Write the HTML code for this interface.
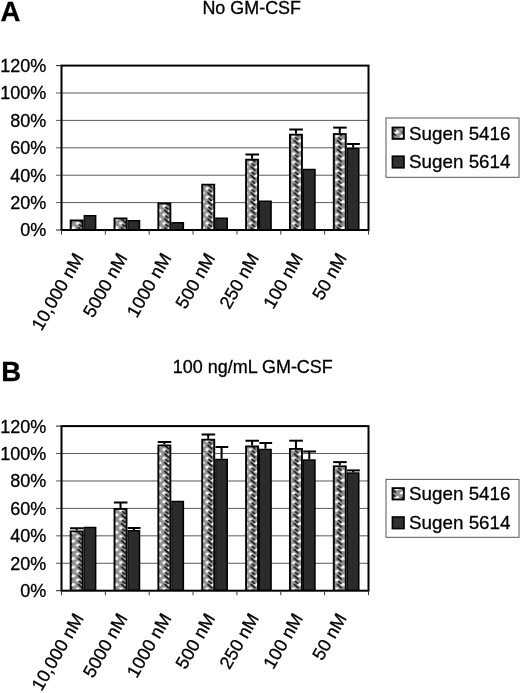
<!DOCTYPE html>
<html><head><meta charset="utf-8"><title>Chart</title>
<style>
html,body{margin:0;padding:0;background:#fff;}
body{width:520px;height:693px;overflow:hidden;}
svg{display:block;position:absolute;left:0;top:0;will-change:transform;opacity:0.999;}
text{font-family:"Liberation Sans",sans-serif;fill:#000;stroke:#000;stroke-width:0.3px;}
</style></head><body>
<svg width="520" height="693" viewBox="0 0 520 693">
<defs>
<pattern id="pata" x="0" y="0" width="10.8" height="8.7" patternUnits="userSpaceOnUse">
<rect width="10.8" height="8.7" fill="#929292"/>
<ellipse cx="8.0" cy="1.6" rx="2.5" ry="1.5" fill="#fff"/>
<ellipse cx="2.3" cy="5.9" rx="2.1" ry="1.6" fill="#fff"/>
<path d="M2.8 1.6 L6.6 4.9 M3.6 7.0 L6.4 9.2 M3.6 -1.7 L6.4 0.5" stroke="#0a0a0a" stroke-width="1.5" stroke-linecap="round" fill="none"/>
</pattern>
<pattern id="patb" x="0" y="0" width="10.8" height="8.7" patternUnits="userSpaceOnUse">
<rect width="10.8" height="8.7" fill="#929292"/>
<ellipse cx="8.0" cy="1.6" rx="2.5" ry="1.5" fill="#fff"/>
<ellipse cx="2.3" cy="5.9" rx="2.1" ry="1.6" fill="#fff"/>
<path d="M2.8 1.6 L6.6 4.9 M3.6 7.0 L6.4 9.2 M3.6 -1.7 L6.4 0.5" stroke="#0a0a0a" stroke-width="1.5" stroke-linecap="round" fill="none"/>
</pattern>
</defs>
<rect width="520" height="693" fill="#fff"/>
<line x1="56.0" y1="93.00" x2="368.5" y2="93.00" stroke="#5a5a5a" stroke-width="1"/>
<line x1="56.0" y1="120.40" x2="368.5" y2="120.40" stroke="#5a5a5a" stroke-width="1"/>
<line x1="56.0" y1="147.80" x2="368.5" y2="147.80" stroke="#5a5a5a" stroke-width="1"/>
<line x1="56.0" y1="175.20" x2="368.5" y2="175.20" stroke="#5a5a5a" stroke-width="1"/>
<line x1="56.0" y1="202.60" x2="368.5" y2="202.60" stroke="#5a5a5a" stroke-width="1"/>
<rect x="69.70" y="219.50" width="13.90" height="10.50" fill="#000"/>
<rect x="71.60" y="221.30" width="10.10" height="7.90" fill="url(#pata)"/>
<rect x="83.60" y="215.00" width="12.80" height="15.00" fill="#000"/>
<rect x="84.60" y="216.40" width="10.20" height="12.60" fill="#2b2b2b"/>
<rect x="113.56" y="217.50" width="13.90" height="12.50" fill="#000"/>
<rect x="115.46" y="219.30" width="10.10" height="9.90" fill="url(#pata)"/>
<rect x="127.46" y="220.00" width="12.80" height="10.00" fill="#000"/>
<rect x="128.46" y="221.40" width="10.20" height="7.60" fill="#2b2b2b"/>
<rect x="157.41" y="202.50" width="13.90" height="27.50" fill="#000"/>
<rect x="159.31" y="204.30" width="10.10" height="24.90" fill="url(#pata)"/>
<rect x="171.31" y="222.00" width="12.80" height="8.00" fill="#000"/>
<rect x="172.31" y="223.40" width="10.20" height="5.60" fill="#2b2b2b"/>
<rect x="201.27" y="183.75" width="13.90" height="46.25" fill="#000"/>
<rect x="203.17" y="185.55" width="10.10" height="43.65" fill="url(#pata)"/>
<rect x="215.17" y="217.50" width="12.80" height="12.50" fill="#000"/>
<rect x="216.17" y="218.90" width="10.20" height="10.10" fill="#2b2b2b"/>
<rect x="245.13" y="158.75" width="13.90" height="71.25" fill="#000"/>
<rect x="247.03" y="160.55" width="10.10" height="68.65" fill="url(#pata)"/>
<rect x="259.03" y="200.50" width="12.80" height="29.50" fill="#000"/>
<rect x="260.03" y="201.90" width="10.20" height="27.10" fill="#2b2b2b"/>
<rect x="251.08" y="154.50" width="2" height="4.25" fill="#000"/>
<rect x="245.43" y="153.50" width="13.60" height="2" fill="#000"/>
<rect x="288.99" y="133.75" width="13.90" height="96.25" fill="#000"/>
<rect x="290.89" y="135.55" width="10.10" height="93.65" fill="url(#pata)"/>
<rect x="302.89" y="168.75" width="12.80" height="61.25" fill="#000"/>
<rect x="303.89" y="170.15" width="10.20" height="58.85" fill="#2b2b2b"/>
<rect x="294.94" y="129.50" width="2" height="4.25" fill="#000"/>
<rect x="289.29" y="128.50" width="13.60" height="2" fill="#000"/>
<rect x="332.84" y="133.10" width="13.90" height="96.90" fill="#000"/>
<rect x="334.74" y="134.90" width="10.10" height="94.30" fill="url(#pata)"/>
<rect x="346.74" y="147.80" width="12.80" height="82.20" fill="#000"/>
<rect x="347.74" y="149.20" width="10.20" height="79.80" fill="#2b2b2b"/>
<rect x="338.79" y="127.60" width="2" height="5.50" fill="#000"/>
<rect x="333.14" y="126.60" width="13.60" height="2" fill="#000"/>
<rect x="352.14" y="144.00" width="2" height="3.80" fill="#000"/>
<rect x="347.04" y="143.00" width="12.80" height="2" fill="#000"/>
<rect x="61.5" y="65.6" width="307.0" height="164.4" fill="none" stroke="#000" stroke-width="2"/>
<line x1="56.0" y1="65.6" x2="61.5" y2="65.6" stroke="#222" stroke-width="1"/>
<line x1="56.0" y1="230.0" x2="61.5" y2="230.0" stroke="#222" stroke-width="1"/>
<line x1="61.50" y1="230.0" x2="61.50" y2="234.5" stroke="#333" stroke-width="1"/>
<line x1="105.36" y1="230.0" x2="105.36" y2="234.5" stroke="#333" stroke-width="1"/>
<line x1="149.21" y1="230.0" x2="149.21" y2="234.5" stroke="#333" stroke-width="1"/>
<line x1="193.07" y1="230.0" x2="193.07" y2="234.5" stroke="#333" stroke-width="1"/>
<line x1="236.93" y1="230.0" x2="236.93" y2="234.5" stroke="#333" stroke-width="1"/>
<line x1="280.79" y1="230.0" x2="280.79" y2="234.5" stroke="#333" stroke-width="1"/>
<line x1="324.64" y1="230.0" x2="324.64" y2="234.5" stroke="#333" stroke-width="1"/>
<line x1="368.50" y1="230.0" x2="368.50" y2="234.5" stroke="#333" stroke-width="1"/>
<text x="46.2" y="72.00" text-anchor="end" font-size="18">120%</text>
<text x="46.2" y="99.40" text-anchor="end" font-size="18">100%</text>
<text x="46.2" y="126.80" text-anchor="end" font-size="18">80%</text>
<text x="46.2" y="154.20" text-anchor="end" font-size="18">60%</text>
<text x="46.2" y="181.60" text-anchor="end" font-size="18">40%</text>
<text x="46.2" y="209.00" text-anchor="end" font-size="18">20%</text>
<text x="46.2" y="236.40" text-anchor="end" font-size="18">0%</text>
<text transform="translate(84.23,257.8) rotate(-60)" text-anchor="end" font-size="18.1">10,000 nM</text>
<text transform="translate(128.09,257.8) rotate(-60)" text-anchor="end" font-size="18.1">5000 nM</text>
<text transform="translate(171.94,257.8) rotate(-60)" text-anchor="end" font-size="18.1">1000 nM</text>
<text transform="translate(215.80,257.8) rotate(-60)" text-anchor="end" font-size="18.1">500 nM</text>
<text transform="translate(259.66,257.8) rotate(-60)" text-anchor="end" font-size="18.1">250 nM</text>
<text transform="translate(303.51,257.8) rotate(-60)" text-anchor="end" font-size="18.1">100 nM</text>
<text transform="translate(347.37,257.8) rotate(-60)" text-anchor="end" font-size="18.1">50 nM</text>
<text x="202.4" y="14.3" font-size="17.5" textLength="98.6" lengthAdjust="spacingAndGlyphs">No GM-CSF</text>
<text x="0.6" y="21" font-size="27.5" font-weight="bold">A</text>
<rect x="386" y="118" width="133" height="59.30000000000001" fill="#fff" stroke="#555" stroke-width="1"/>
<rect x="391.6" y="126.60" width="13.2" height="13.2" fill="#000"/>
<rect x="393.4" y="128.40" width="9.6" height="9.6" fill="url(#pata)"/>
<text x="409" y="139.6" font-size="18.6" textLength="101.5" lengthAdjust="spacingAndGlyphs">Sugen 5416</text>
<rect x="391.6" y="155.40" width="13.2" height="13.2" fill="#000"/>
<rect x="393.2" y="157.00" width="10" height="10" fill="#303030"/>
<text x="409" y="168.4" font-size="18.6" textLength="101.5" lengthAdjust="spacingAndGlyphs">Sugen 5614</text>
<line x1="56.0" y1="453.53" x2="368.5" y2="453.53" stroke="#5a5a5a" stroke-width="1"/>
<line x1="56.0" y1="480.97" x2="368.5" y2="480.97" stroke="#5a5a5a" stroke-width="1"/>
<line x1="56.0" y1="508.40" x2="368.5" y2="508.40" stroke="#5a5a5a" stroke-width="1"/>
<line x1="56.0" y1="535.83" x2="368.5" y2="535.83" stroke="#5a5a5a" stroke-width="1"/>
<line x1="56.0" y1="563.27" x2="368.5" y2="563.27" stroke="#5a5a5a" stroke-width="1"/>
<rect x="69.70" y="530.50" width="13.90" height="60.20" fill="#000"/>
<rect x="71.60" y="532.30" width="10.10" height="57.60" fill="url(#patb)"/>
<rect x="83.60" y="526.75" width="12.80" height="63.95" fill="#000"/>
<rect x="84.60" y="528.15" width="10.20" height="61.55" fill="#2b2b2b"/>
<rect x="75.65" y="528.25" width="2" height="2.25" fill="#000"/>
<rect x="70.00" y="527.25" width="13.60" height="2" fill="#000"/>
<rect x="113.56" y="508.00" width="13.90" height="82.70" fill="#000"/>
<rect x="115.46" y="509.80" width="10.10" height="80.10" fill="url(#patb)"/>
<rect x="127.46" y="530.00" width="12.80" height="60.70" fill="#000"/>
<rect x="128.46" y="531.40" width="10.20" height="58.30" fill="#2b2b2b"/>
<rect x="119.51" y="502.50" width="2" height="5.50" fill="#000"/>
<rect x="113.86" y="501.50" width="13.60" height="2" fill="#000"/>
<rect x="132.86" y="528.00" width="2" height="2.00" fill="#000"/>
<rect x="127.76" y="527.00" width="12.80" height="2" fill="#000"/>
<rect x="157.41" y="444.50" width="13.90" height="146.20" fill="#000"/>
<rect x="159.31" y="446.30" width="10.10" height="143.60" fill="url(#patb)"/>
<rect x="171.31" y="500.75" width="12.80" height="89.95" fill="#000"/>
<rect x="172.31" y="502.15" width="10.20" height="87.55" fill="#2b2b2b"/>
<rect x="163.36" y="442.00" width="2" height="2.50" fill="#000"/>
<rect x="157.71" y="441.00" width="13.60" height="2" fill="#000"/>
<rect x="201.27" y="438.75" width="13.90" height="151.95" fill="#000"/>
<rect x="203.17" y="440.55" width="10.10" height="149.35" fill="url(#patb)"/>
<rect x="215.17" y="458.75" width="12.80" height="131.95" fill="#000"/>
<rect x="216.17" y="460.15" width="10.20" height="129.55" fill="#2b2b2b"/>
<rect x="207.22" y="434.50" width="2" height="4.25" fill="#000"/>
<rect x="201.57" y="433.50" width="13.60" height="2" fill="#000"/>
<rect x="220.57" y="447.00" width="2" height="11.75" fill="#000"/>
<rect x="215.47" y="446.00" width="12.80" height="2" fill="#000"/>
<rect x="245.13" y="445.50" width="13.90" height="145.20" fill="#000"/>
<rect x="247.03" y="447.30" width="10.10" height="142.60" fill="url(#patb)"/>
<rect x="259.03" y="448.75" width="12.80" height="141.95" fill="#000"/>
<rect x="260.03" y="450.15" width="10.20" height="139.55" fill="#2b2b2b"/>
<rect x="251.08" y="440.75" width="2" height="4.75" fill="#000"/>
<rect x="245.43" y="439.75" width="13.60" height="2" fill="#000"/>
<rect x="264.43" y="443.00" width="2" height="5.75" fill="#000"/>
<rect x="259.33" y="442.00" width="12.80" height="2" fill="#000"/>
<rect x="288.99" y="448.00" width="13.90" height="142.70" fill="#000"/>
<rect x="290.89" y="449.80" width="10.10" height="140.10" fill="url(#patb)"/>
<rect x="302.89" y="459.30" width="12.80" height="131.40" fill="#000"/>
<rect x="303.89" y="460.70" width="10.20" height="129.00" fill="#2b2b2b"/>
<rect x="294.94" y="440.70" width="2" height="7.30" fill="#000"/>
<rect x="289.29" y="439.70" width="13.60" height="2" fill="#000"/>
<rect x="308.29" y="451.50" width="2" height="7.80" fill="#000"/>
<rect x="303.19" y="450.50" width="12.80" height="2" fill="#000"/>
<rect x="332.84" y="465.40" width="13.90" height="125.30" fill="#000"/>
<rect x="334.74" y="467.20" width="10.10" height="122.70" fill="url(#patb)"/>
<rect x="346.74" y="472.30" width="12.80" height="118.40" fill="#000"/>
<rect x="347.74" y="473.70" width="10.20" height="116.00" fill="#2b2b2b"/>
<rect x="338.79" y="462.10" width="2" height="3.30" fill="#000"/>
<rect x="333.14" y="461.10" width="13.60" height="2" fill="#000"/>
<rect x="352.14" y="470.40" width="2" height="1.90" fill="#000"/>
<rect x="347.04" y="469.40" width="12.80" height="2" fill="#000"/>
<rect x="61.5" y="426.1" width="307.0" height="164.60000000000002" fill="none" stroke="#000" stroke-width="2"/>
<line x1="56.0" y1="426.1" x2="61.5" y2="426.1" stroke="#222" stroke-width="1"/>
<line x1="56.0" y1="590.7" x2="61.5" y2="590.7" stroke="#222" stroke-width="1"/>
<line x1="61.50" y1="590.7" x2="61.50" y2="595.2" stroke="#333" stroke-width="1"/>
<line x1="105.36" y1="590.7" x2="105.36" y2="595.2" stroke="#333" stroke-width="1"/>
<line x1="149.21" y1="590.7" x2="149.21" y2="595.2" stroke="#333" stroke-width="1"/>
<line x1="193.07" y1="590.7" x2="193.07" y2="595.2" stroke="#333" stroke-width="1"/>
<line x1="236.93" y1="590.7" x2="236.93" y2="595.2" stroke="#333" stroke-width="1"/>
<line x1="280.79" y1="590.7" x2="280.79" y2="595.2" stroke="#333" stroke-width="1"/>
<line x1="324.64" y1="590.7" x2="324.64" y2="595.2" stroke="#333" stroke-width="1"/>
<line x1="368.50" y1="590.7" x2="368.50" y2="595.2" stroke="#333" stroke-width="1"/>
<text x="46.2" y="432.50" text-anchor="end" font-size="18">120%</text>
<text x="46.2" y="459.93" text-anchor="end" font-size="18">100%</text>
<text x="46.2" y="487.37" text-anchor="end" font-size="18">80%</text>
<text x="46.2" y="514.80" text-anchor="end" font-size="18">60%</text>
<text x="46.2" y="542.23" text-anchor="end" font-size="18">40%</text>
<text x="46.2" y="569.67" text-anchor="end" font-size="18">20%</text>
<text x="46.2" y="597.10" text-anchor="end" font-size="18">0%</text>
<text transform="translate(84.23,618.0) rotate(-60)" text-anchor="end" font-size="18.1">10,000 nM</text>
<text transform="translate(128.09,618.0) rotate(-60)" text-anchor="end" font-size="18.1">5000 nM</text>
<text transform="translate(171.94,618.0) rotate(-60)" text-anchor="end" font-size="18.1">1000 nM</text>
<text transform="translate(215.80,618.0) rotate(-60)" text-anchor="end" font-size="18.1">500 nM</text>
<text transform="translate(259.66,618.0) rotate(-60)" text-anchor="end" font-size="18.1">250 nM</text>
<text transform="translate(303.51,618.0) rotate(-60)" text-anchor="end" font-size="18.1">100 nM</text>
<text transform="translate(347.37,618.0) rotate(-60)" text-anchor="end" font-size="18.1">50 nM</text>
<text x="172.8" y="373.4" font-size="17.5" textLength="160" lengthAdjust="spacingAndGlyphs">100 ng/mL GM-CSF</text>
<text x="1.2" y="381" font-size="27.5" font-weight="bold">B</text>
<rect x="386" y="479.4" width="133" height="57.89999999999998" fill="#fff" stroke="#555" stroke-width="1"/>
<rect x="391.6" y="487.20" width="13.2" height="13.2" fill="#000"/>
<rect x="393.4" y="489.00" width="9.6" height="9.6" fill="url(#patb)"/>
<text x="409" y="500.2" font-size="18.6" textLength="101.5" lengthAdjust="spacingAndGlyphs">Sugen 5416</text>
<rect x="391.6" y="516.20" width="13.2" height="13.2" fill="#000"/>
<rect x="393.2" y="517.80" width="10" height="10" fill="#303030"/>
<text x="409" y="529.2" font-size="18.6" textLength="101.5" lengthAdjust="spacingAndGlyphs">Sugen 5614</text>
</svg>
</body></html>
